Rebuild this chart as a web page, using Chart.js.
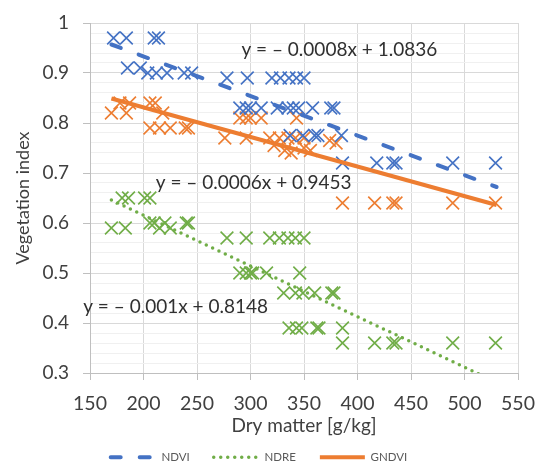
<!DOCTYPE html>
<html>
<head>
<meta charset="utf-8">
<script src="https://cdn.jsdelivr.net/npm/chart.js@4.4.1/dist/chart.umd.min.js"></script>
<style>
  html, body { margin: 0; padding: 0; background: #fff; }
</style>
</head>
<body>
<canvas id="graph" width="536" height="468"></canvas>
<script>
// DATA (dry matter g/kg vs index value)
const ndviX = [172, 184, 210, 214, 185, 197, 204, 212, 222, 238, 245,
  278, 297, 320, 328, 336, 343, 350,
  290, 296, 300, 310, 325, 335, 340, 345, 358, 375, 378,
  337, 349, 360, 363, 385,
  386, 418, 433, 436, 489, 529];
const ndviY = [0.97, 0.97, 0.97, 0.97, 0.91, 0.91, 0.90, 0.90, 0.90, 0.90, 0.90,
  0.89, 0.89, 0.89, 0.89, 0.89, 0.89, 0.89,
  0.83, 0.83, 0.83, 0.83, 0.83, 0.83, 0.83, 0.83, 0.83, 0.83, 0.83,
  0.775, 0.775, 0.775, 0.775, 0.775,
  0.72, 0.72, 0.72, 0.72, 0.72, 0.72];

const gndviX = [178, 187, 206, 211, 170, 184, 218,
  206, 215, 225, 239, 242,
  290, 296, 300, 310, 343,
  276, 296, 318, 327, 335, 342, 350,
  322, 332, 338, 350, 356, 374, 380,
  386, 416, 433, 436, 489, 529];
const gndviY = [0.84, 0.84, 0.84, 0.84, 0.82, 0.82, 0.82,
  0.79, 0.79, 0.79, 0.79, 0.79,
  0.81, 0.81, 0.81, 0.81, 0.81,
  0.77, 0.77, 0.77, 0.77, 0.77, 0.77, 0.77,
  0.755, 0.745, 0.74, 0.75, 0.745, 0.765, 0.76,
  0.64, 0.64, 0.64, 0.64, 0.64, 0.64];

const ndreX = [180, 186, 201, 206,
  170, 183, 206, 210, 215, 220, 225, 240, 242,
  278, 296, 318, 327, 335, 342, 350,
  290, 296, 300, 302, 315, 346,
  331, 342, 349, 360, 376, 378,
  336, 343, 348, 362, 364, 386,
  386, 416, 433, 436, 489, 529];
const ndreY = [0.65, 0.65, 0.65, 0.65,
  0.59, 0.59, 0.60, 0.60, 0.59, 0.60, 0.59, 0.60, 0.60,
  0.57, 0.57, 0.57, 0.57, 0.57, 0.57, 0.57,
  0.50, 0.50, 0.50, 0.50, 0.50, 0.50,
  0.46, 0.46, 0.46, 0.46, 0.46, 0.46,
  0.39, 0.39, 0.39, 0.39, 0.39, 0.39,
  0.36, 0.36, 0.36, 0.36, 0.36, 0.36];

// trendline ends
const trendX = [170, 530];
const ndviTrendY = [0.957, 0.672];
const ndreTrendY = [0.646, 0.281];
const gndviTrendY = [0.849, 0.636];

const equations = ['y = – 0.0008x + 1.0836', 'y = – 0.0006x + 0.9453', 'y = – 0.001x + 0.8148'];
const xTicks = [150, 200, 250, 300, 350, 400, 450, 500, 550];

const colors = { ndvi: '#4472C4', gndvi: '#ED7D31', ndre: '#70AD47' };

const pts = (xs, ys) => xs.map((x, i) => ({ x: x, y: ys[i] }));

function markers(label, xs, ys, color) {
  return {
    label: label,
    data: pts(xs, ys),
    showLine: false,
    pointStyle: 'crossRot',
    pointRadius: 9,
    pointBorderWidth: 1.6,
    borderColor: color,
    backgroundColor: color,
    order: 1
  };
}

function trend(label, ys, color, dash, cap, width) {
  return {
    label: label,
    data: pts(trendX, ys),
    showLine: true,
    pointRadius: 0,
    borderColor: color,
    backgroundColor: color,
    borderWidth: width,
    borderDash: dash,
    borderCapStyle: cap,
    order: 0
  };
}

// equation text, placed in data units
const eqSpots = [[383, 0.946], [303, 0.681], [230, 0.432]];
const equationLabels = {
  id: 'equationLabels',
  afterDatasetsDraw(chart) {
    const { ctx, scales: { x, y } } = chart;
    ctx.save();
    ctx.font = '19px Lato';
    ctx.fillStyle = '#303030';
    ctx.textAlign = 'center';
    ctx.textBaseline = 'middle';
    equations.forEach((t, i) => {
      ctx.fillText(t, x.getPixelForValue(eqSpots[i][0]), y.getPixelForValue(eqSpots[i][1]));
    });
    ctx.restore();
  }
};

const isMajor = v => Math.round(v * 100) % 10 === 0;

Chart.defaults.font.family = 'Lato';

// legend lines should copy the trendline dash, not the point style
function legendItems(chart) {
  return Chart.defaults.plugins.legend.labels.generateLabels(chart).map(item => {
    const ds = chart.data.datasets[item.datasetIndex];
    item.lineDash = ds.borderDash;
    item.lineCap = ds.borderCapStyle;
    item.lineWidth = ds.borderWidth;
    item.strokeStyle = ds.borderColor;
    return item;
  });
}

const graph = document.getElementById('graph');
let myChart = new Chart(graph, {
  type: 'scatter',
  data: {
    datasets: [
      trend('NDVI', ndviTrendY, colors.ndvi, [10, 19], 'round', 4),
      trend('NDRE', ndreTrendY, colors.ndre, [0, 7], 'round', 3.5),
      trend('GNDVI', gndviTrendY, colors.gndvi, [], 'butt', 4),
      markers('NDVI points', ndviX, ndviY, colors.ndvi),
      markers('GNDVI points', gndviX, gndviY, colors.gndvi),
      markers('NDRE points', ndreX, ndreY, colors.ndre)
    ]
  },
  options: {
    responsive: false,
    devicePixelRatio: 1,
    animation: false,
    events: [],
    layout: { padding: { top: 23, right: 18, left: 0, bottom: -5 } },
    plugins: {
      tooltip: { enabled: false },
      legend: {
        position: 'bottom',
        labels: {
          generateLabels: legendItems,
          filter: item => !item.text.includes('points'),
          usePointStyle: true,
          pointStyle: 'line',
          pointStyleWidth: 45,
          boxHeight: 11,
          padding: 24,
          color: '#595959',
          font: { size: 11.5 }
        }
      }
    },
    scales: {
      x: {
        min: 150,
        max: 550,
        afterBuildTicks: s => { s.ticks = xTicks.map(v => ({ value: v })); },
        ticks: { color: '#404040', font: { size: 19.5 }, padding: 12 },
        grid: { color: '#d9d9d9', tickColor: '#bfbfbf', tickLength: 7 },
        border: { color: '#bfbfbf' },
        title: { display: true, text: 'Dry matter [g/kg]', color: '#404040', font: { size: 19 }, padding: { top: 0, bottom: -10 } },
        afterFit: s => {
          s.height = s.chart.height - 373 - s.chart.legend.height + 5;
          s.paddingLeft = 0;
          s.paddingRight = 0;
        }
      },
      y: {
        min: 0.3,
        max: 1,
        ticks: {
          stepSize: 0.02,
          autoSkip: false,
          maxTicksLimit: 100,
          color: '#404040',
          font: { size: 19 },
          padding: 14,
          callback: v => isMajor(v) ? (v === 1 ? '1' : v.toFixed(1)) : ''
        },
        grid: {
          color: c => isMajor(c.tick.value) ? '#d9d9d9' : '#f0f0f0',
          tickColor: c => isMajor(c.tick.value) ? '#bfbfbf' : 'rgba(0,0,0,0)',
          tickLength: 7
        },
        border: { color: '#bfbfbf' },
        title: { display: true, text: 'Vegetation index', color: '#404040', font: { size: 18 }, padding: { top: 12, bottom: 0 } },
        afterFit: s => {
          s.width = 90;
          s.paddingTop = 0;
          s.paddingBottom = 0;
        }
      }
    }
  },
  plugins: [equationLabels]
});
</script>
</body>
</html>
